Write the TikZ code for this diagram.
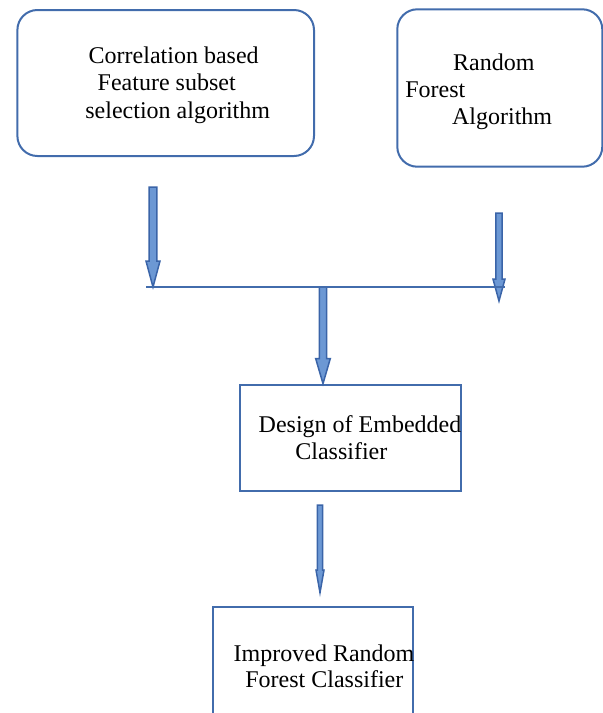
\documentclass[tikz,border=0pt]{standalone}
\usepackage{fontspec}
\setmainfont{Liberation Serif}
\usetikzlibrary{calc}
\definecolor{boxblue}{RGB}{66,108,172}
\definecolor{arrowfill}{RGB}{108,152,212}
\definecolor{arrowline}{RGB}{58,100,168}
% block arrow: start, tip, half shaft, half head, head length
\newcommand\blockarrow[5]{%
   \filldraw[blockarr] ($(#1)+(-#3,0)$) -- ($(#2)+(-#3,-#5)$) -- ($(#2)+(-#4,-#5)$)
   -- (#2) -- ($(#2)+(#4,-#5)$) -- ($(#2)+(#3,-#5)$) -- ($(#1)+(#3,0)$) -- cycle;}
\begin{document}
\begin{tikzpicture}[x=0.5pt,y=-0.5pt,
   box/.style={draw=boxblue, line width=1pt, inner sep=0pt},
   roundbox/.style={box, rounded corners=10pt},
   boxtext/.style={anchor=base west, inner sep=0pt, font=\fontsize{12}{14}\selectfont},
   blockarr/.style={fill=arrowfill, draw=arrowline, line width=0.75pt, line join=miter}]
   \useasboundingbox (0,0) rectangle (603,713);
   %% boxes, pixel coordinates with y going down
   \node[roundbox, minimum width=148.3pt, minimum height=73pt] (corr) at (165.7,83) {};
   \node[roundbox, minimum width=102.5pt, minimum height=78.7pt] (forest) at (499.8,88) {};
   \node[box, minimum width=110.3pt, minimum height=53.2pt] (design) at (350.3,437.8) {};
   \node[box, minimum width=100.3pt, minimum height=55.7pt] (improved) at (313,662.4) {};
   
   \foreach \n/\p/\t in
   { c1/{88.3,63.3}/Correlation based,
     c2/{97.3,90.7}/Feature subset,
     c3/{85,118.3}/selection algorithm,
     r1/{452.7,70}/Random,
     r2/{405,97.5}/Forest,
     r3/{451.7,124}/Algorithm,
     d1/{258.3,432}/Design of Embedded,
     d2/{295,459.7}/Classifier,
     i1/{233.3,661.7}/Improved Random,
     i2/{245,687.3}/Forest Classifier
   }
   {
       \node[boxtext] (\n) at (\p) {\t};
   };
   
   \coordinate (a1s) at (153,187);
   \coordinate (a1e) at (153,287);
   \coordinate (a2s) at (499,213);
   \coordinate (a2e) at (499,301);
   \coordinate (a3s) at (323,287);
   \coordinate (a3e) at (a3s |- design.north);
   \coordinate (a4s) at (320,505);
   \coordinate (a4e) at (320,592.7);
   \coordinate (barL) at (146,287);
   \coordinate (barR) at (505,287);
   
   \foreach \s/\e/\w/\h/\l in
   { a1s/a1e/3.8/7/26,
     a2s/a2e/3.2/6/22,
     a3s/a3e/3.7/7.3/25,
     a4s/a4e/2.7/4/22.7
   }
   {
       \blockarrow{\s}{\e}{\w}{\h}{\l}
   };
   
   \draw[boxblue, line width=1pt] (barL) -- (barR);
\end{tikzpicture}
\end{document}
